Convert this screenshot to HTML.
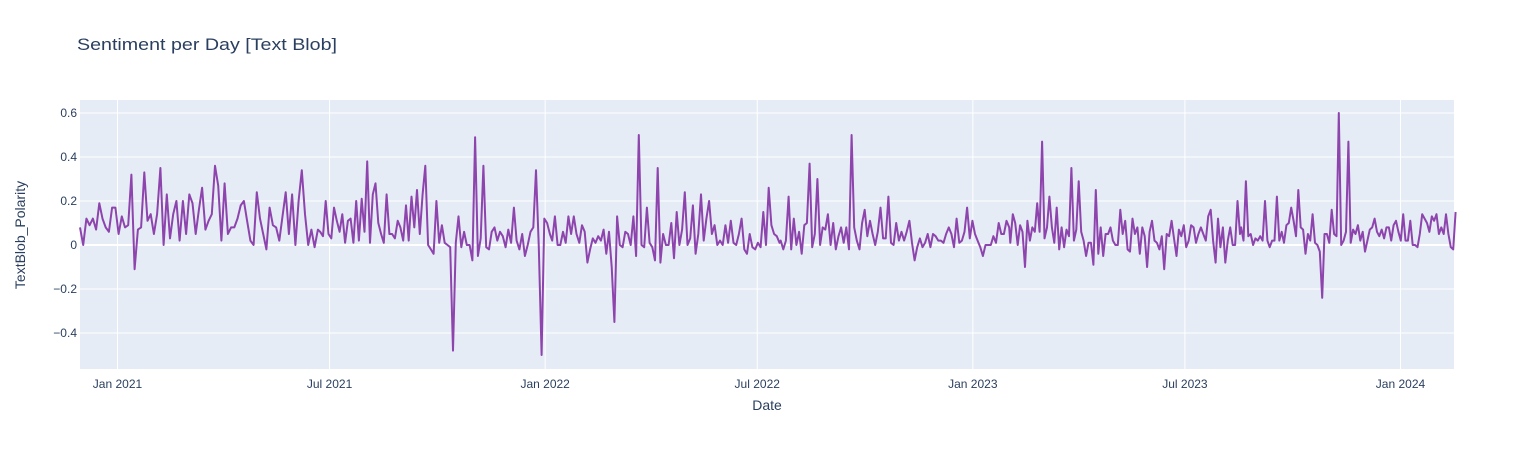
<!DOCTYPE html>
<html><head><meta charset="utf-8">
<style>
html,body{margin:0;padding:0;background:#fff;}
svg{display:block;font-family:"Liberation Sans",Arial,sans-serif;}
</style></head>
<body>
<svg id="chart" width="1534" height="450" viewBox="0 0 1534 450">
  <rect x="0" y="0" width="1534" height="450" fill="#fff"/>
  <text x="77" y="50" font-size="17" fill="#2a3f5f" textLength="260" lengthAdjust="spacingAndGlyphs">Sentiment per Day [Text Blob]</text>
  <rect x="80" y="100" width="1374" height="269" fill="#E5ECF6"/>
  <g id="grid"></g>
  <g id="yticks"></g>
  <g id="xticks"></g>
  <g id="series"></g>
  <text x="767" y="410" font-size="14" fill="#2a3f5f" text-anchor="middle">Date</text>
  <text x="25" y="235" font-size="14" fill="#2a3f5f" text-anchor="middle" transform="rotate(-90 25 235)">TextBlob_Polarity</text>
</svg>
<script>
// day offsets are days since 2020-11-30
const yTicks = [0.6, 0.4, 0.2, 0, -0.2, -0.4];
const yTickLabels = ["0.6", "0.4", "0.2", "0", "−0.2", "−0.4"];
const xTickDays = [32, 213, 397, 578, 762, 943, 1127];
const xTickLabels = ["Jan 2021", "Jul 2021", "Jan 2022", "Jul 2022", "Jan 2023", "Jul 2023", "Jan 2024"];
const segStartDays = [0, 205, 403, 598, 794, 991];
const segEndDays = [203, 401, 597, 793, 990, 1174];
const seg1 = [.08,0,.12,.09,.12,.07,.19,.12,.08,.06,.17,.17,.05,.13,.08,.09,.32,-.11,.07,.08,.33,.11,.14,.05,.14,.35,0,.23,.03,.14,.2,.02,.2,.05,.23,.19,.05,.16,.26,.07,.11,.14,.36,.27,.02,.28,.05,.08,.08,.12,.18,.2,.11,.02,0,.24,.12,.05,-.02,.17,.09,.08,.02,.13,.24,.05,.23,0,.2,.34,.14,0,.07,-.01,.07];
const seg2 = [.06,.04,.2,.05,.03,.17,.11,.06,.14,.01,.11,.12,.01,.2,.02,.21,.06,.38,.01,.23,.28,.1,.05,.01,.23,.05,.05,.03,.11,.08,.02,.18,.02,.22,.08,.25,.05,.23,.36,0,-.02,-.04,.2,.01,.09,.01,0,-.01,-.48,.01,.13,-.01,.06,0,0,-.07,.49,-.05,.03,.36,-.01,-.02,.06,.08,.02,.06,.04,-.01,.07,.01,.17,.02,-.02,.05,-.05,0,.06,.08,.34,-.01,-.5,.12,.1,.05];
const seg3 = [.02,.13,0,0,.06,.01,.13,.05,.13,.05,.01,.09,.06,-.08,-.02,.03,.01,.04,.02,.07,-.04,.06,-.1,-.35,.13,0,-.01,.06,.05,0,.13,-.05,.5,0,-.01,.17,.01,-.01,-.07,.35,-.08,.05,0,0,.1,-.06,.15,0,.07,.24,0,.03,.18,-.04,.05,.23,.02,.12,.2,.05,.09,0,.02,0,.09,.01,.11,.01,0,.05,.12,-.02,-.04,.05,-.01,-.02,.01,-.01,.15,0,.26,.09,.05,.04,.01];
const seg4 = [.02,-.02,.02,.22,-.02,.12,0,.06,-.04,.09,.1,.37,-.01,.05,.3,0,.08,.07,.14,0,.1,-.02,.04,.08,.01,.08,-.02,.5,.08,.02,-.02,.1,.16,.04,.11,.05,0,.06,.17,.03,.03,.22,.01,0,.1,.02,.06,.02,.06,.11,.01,-.07,-.01,.03,-.01,.01,.05,-.01,.05,.04,.02,.02,.01,.05,.08,.05,-.01,.12,.01,.02,.06,.17,.03,.11,.05,.02,-.01,-.05,0,0,0,.04,.01,.1,.05,.05,.11,.08];
const seg5 = [.01,.14,.1,0,.09,.06,-.1,.11,.02,.08,.06,.19,.06,.47,.03,.08,.22,.08,.01,.17,-.02,.08,-.01,.07,.04,.35,.02,.07,.29,.06,.02,-.05,.01,.01,-.09,.25,-.04,.08,-.05,.05,.05,.08,.02,0,0,.16,.05,.11,-.02,-.03,.12,.05,.08,-.04,.08,.04,-.1,.06,.11,.02,.01,-.02,.04,-.11,.05,.04,.11,.03,-.05,.07,.04,.09,-.01,.02,.09,.08,.01,.05,.08,.05,.02,.13,.16,.02,-.08,.12,-.01,.08,-.08,.02,.08,0,0,.2,.05];
const seg6 = [.08,.02,.29,.04,.05,0,.03,.02,.04,.02,.2,.02,-.01,.02,.02,.22,.02,.06,.01,.09,.1,.17,.11,.04,.25,.08,.07,-.04,.05,.02,.14,.01,0,-.03,-.24,.05,.05,.01,.16,.05,.04,.6,0,.02,.06,.47,.01,.07,.05,.09,.02,.06,-.03,.02,.07,.08,.12,.06,.04,.07,.03,.08,.08,.02,.09,.11,.06,.02,.14,.02,.02,.11,0,0,-.01,.05,.14,.12,.1,.06,.13,.11,.14,.05,.08,.05,.14,.05,-.01,-.02,.15];
const segValues = [seg1, seg2, seg3, seg4, seg5, seg6];

const NS = "http://www.w3.org/2000/svg";
const PX0 = 80, PX1 = 1454, PY0 = 100, PY1 = 369;
const xScale = d => 80 + d * 1.1717;
const yScale = v => 245 - v * 220;

const grid = document.getElementById('grid');
const yt = document.getElementById('yticks');
const xt = document.getElementById('xticks');

xTickDays.forEach((d, i) => {
  const x = xScale(d);
  const l = document.createElementNS(NS, 'line');
  l.setAttribute('x1', x); l.setAttribute('x2', x);
  l.setAttribute('y1', PY0); l.setAttribute('y2', PY1);
  l.setAttribute('stroke', '#fff'); l.setAttribute('stroke-width', 1);
  
  
  grid.appendChild(l);
  const t = document.createElementNS(NS, 'text');
  t.setAttribute('x', x); t.setAttribute('y', 388);
  t.setAttribute('font-size', 12); t.setAttribute('fill', '#2a3f5f');
  t.setAttribute('text-anchor', 'middle');
  t.textContent = xTickLabels[i];
  
  
  xt.appendChild(t);
});

yTicks.forEach((v, i) => {
  const y = yScale(v);
  const l = document.createElementNS(NS, 'line');
  l.setAttribute('x1', PX0); l.setAttribute('x2', PX1);
  l.setAttribute('y1', y); l.setAttribute('y2', y);
  l.setAttribute('stroke', '#fff'); l.setAttribute('stroke-width', v === 0 ? 2 : 1);
  
  
  grid.appendChild(l);
  const t = document.createElementNS(NS, 'text');
  t.setAttribute('x', 77); t.setAttribute('y', y + 4);
  t.setAttribute('font-size', 12); t.setAttribute('fill', '#2a3f5f');
  t.setAttribute('text-anchor', 'end');
  t.textContent = yTickLabels[i];
  
  
  yt.appendChild(t);
});

let pts = [];
segValues.forEach((vals, s) => {
  const a = segStartDays[s], b = segEndDays[s];
  const n = vals.length;
  vals.forEach((v, i) => {
    const d = n > 1 ? a + (b - a) * i / (n - 1) : a;
    pts.push(xScale(d).toFixed(1) + ',' + yScale(v).toFixed(1));
  });
});
const line = document.createElementNS(NS, 'polyline');
line.setAttribute('points', pts.join(' '));
line.setAttribute('fill', 'none');
line.setAttribute('stroke', '#8e44ad');
line.setAttribute('stroke-width', 2);
line.setAttribute('stroke-linejoin', 'round');


document.getElementById('series').appendChild(line);
</script>
</body></html>
